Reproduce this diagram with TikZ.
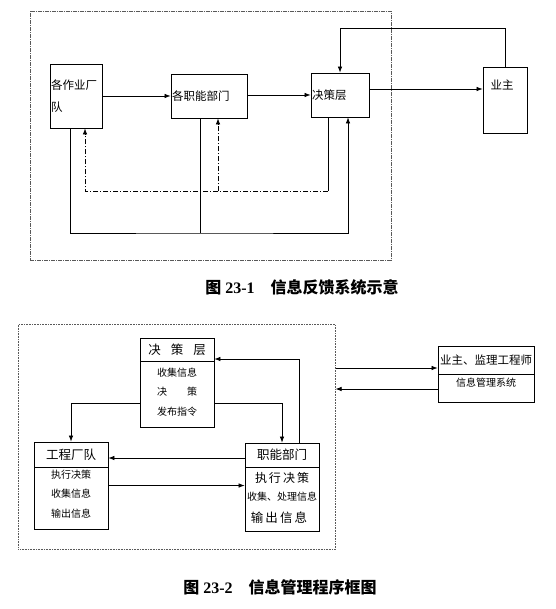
\documentclass[tikz,border=0pt]{standalone}
\usepackage{fontspec}
\setmainfont{Liberation Serif}
\newfontfamily\cjk{Noto Sans CJK SC}
\usetikzlibrary{arrows.meta, positioning}

\begin{document}
\begin{tikzpicture}[x=1pt, y=-1pt,
          bx/.style={draw, line width=0.8pt, inner sep=1pt,
                     font=\cjk\fontsize{11.5}{22}\selectfont},
          hd/.style={draw, line width=0.8pt, inner sep=0pt, anchor=north,
                     font=\cjk\fontsize{12.5}{13}\selectfont},
          txt/.style={inner sep=0pt, align=center,
                      font=\cjk\fontsize{10}{19.5}\selectfont},
          arr/.style={-{Latex[length=6pt, width=4.5pt]}, line width=0.7pt},
          ln/.style={line width=0.7pt},
          dd/.style={dash pattern=on 5pt off 2pt on 1pt off 2pt,
                     line width=0.7pt},
          frm/.style={draw=black!65, line width=0.6pt, inner sep=0pt,
                      anchor=north west},
          fcap/.style={font=\bfseries\fontsize{16}{16}\selectfont}
        ]
        \useasboundingbox (0,0) rectangle (555,609);

        % 23-1
        \node[frm, dash pattern=on 4pt off 1pt on 1pt off 1pt,
              minimum width=361, minimum height=249] (fr1) at (30,11) {};
        \node[bx, minimum width=52, minimum height=64,
              text width=50, align=left] (zyd) at (76,96) {各作业厂\\队};
        \node[bx, minimum width=76, minimum height=44,
              text width=74, align=left] (znb) at (209,96) {各职能部门};
        \node[bx, minimum width=58, minimum height=44,
              text width=56, align=left] (jcc) at (340,95) {决策层};
        \node[bx, minimum width=44, minimum height=66] (yz) at (505,100) {};
        \node[font=\cjk\fontsize{11.5}{11}\selectfont] (yzt) at (502,85) {业主};
        \draw[arr] (zyd.east) -- (znb.west);
        \draw[arr] (znb.east |- jcc.west) -- (jcc.west);
        \coordinate (cd) at ([yshift=6pt]jcc.east);
        \draw[arr] (cd) -- (cd -| yz.west);
        \draw[arr] (yz.north) -- ++(0,-38) -| (jcc.north);
        % feedback
        \draw[ln] ([xshift=-12pt]jcc.south) -- ++(0,74) coordinate (fb);
        \draw[dd, arr] (fb) -| ([xshift=9pt]zyd.south);
        \coordinate (bin) at ([xshift=9pt]znb.south);
        \draw[dd, arr] (bin |- fb) -- (bin);
        \coordinate (bot) at (200,233);
        \draw[arr] ([xshift=-6pt]zyd.south) |- (bot) -| ([xshift=8pt]jcc.south);
        \draw[ln] (bot) -- (bot |- znb.south);
        \node[fcap] (cap1) at (302,287)
              {{\cjk 图} 23-1\hspace{1em}{\cjk 信息反馈系统示意}};

        % 23-2
        \node[frm, densely dotted, minimum width=317, minimum height=225]
              (fr2) at (18,324) {};
        \node[bx, minimum width=74, minimum height=89] (jc) at (177,382.5) {};
        \node[hd, minimum width=74, minimum height=23] (jch) at (jc.north)
              {决\hspace{0.8em}策\hspace{0.8em}层};
        \node[txt] (jcb) at (177,392) {收集信息\\决\hspace{2em}策\\发布指令};

        \node[bx, minimum width=74, minimum height=87] (gc) at (71,485.5) {};
        \node[hd, minimum width=74, minimum height=25] (gch) at (gc.north)
              {工程厂队};
        \node[txt] (gcb) at (71,494) {执行决策\\收集信息\\输出信息};

        \node[bx, minimum width=74, minimum height=88] (zn) at (282,487) {};
        \node[hd, minimum width=74, minimum height=24] (znh) at (zn.north)
              {职能部门};
        \node[txt] (znb1) at (282,478)
              {\fontsize{12}{12}\selectfont 执\,行\,决\,策};
        \node[txt] (znb2) at (282,497) {收集、处理信息};
        \node[txt] (znb3) at (279,518)
              {\fontsize{12.5}{12}\selectfont 输\,出\,信\,息};

        \node[bx, minimum width=96, minimum height=56] (yzj) at (486,374) {};
        \node[hd, minimum width=96, minimum height=28,
              font=\cjk\fontsize{11.5}{12}\selectfont] (yzh) at (yzj.north)
              {业主、监理工程师};
        \node[txt] (yzb) at (486,383) {信息管理系统};

        \draw[arr] ([xshift=17pt]zn.north) |- ([yshift=23.5pt]jc.east);
        \draw[arr] ([yshift=-20.5pt]jc.east) -| (zn.north);
        \draw[arr] ([yshift=-20.5pt]jc.west) -| (gc.north);
        \draw[arr] ([yshift=29pt]zn.west) -- ([yshift=27.5pt]gc.east);
        \draw[arr] (gc.east) -- (gc.east -| zn.west);
        \coordinate (p) at ([yshift=6pt]yzj.west);
        \coordinate (q) at ([yshift=-15pt]yzj.west);
        \draw[arr] (p -| fr2.east) -- (p);
        \draw[arr] (q) -- (q -| fr2.east);
        \node[fcap] (cap2) at (280,587)
              {{\cjk 图} 23-2\hspace{1em}{\cjk 信息管理程序框图}};
      \end{tikzpicture}
\end{document}
